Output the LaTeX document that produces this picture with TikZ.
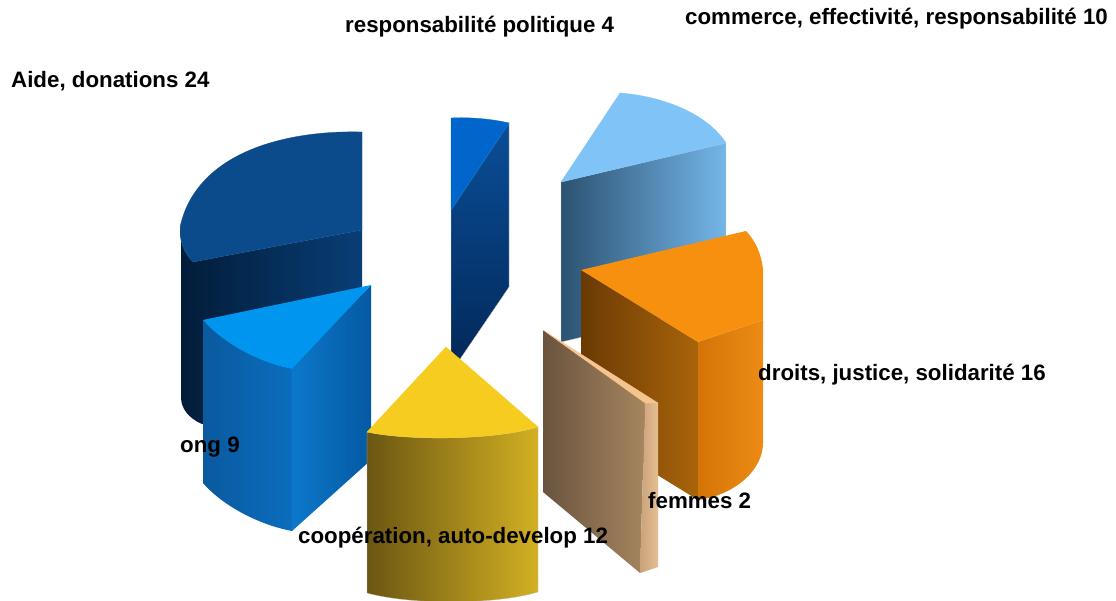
\documentclass[tikz,border=0pt]{standalone}
\usepackage{fontspec}
\setmainfont{Liberation Sans}

\definecolor{AideTop}{HTML}{0B4A8B}
\definecolor{AideSideL}{HTML}{021C38}
\definecolor{AideSideR}{HTML}{083E76}
\definecolor{RespTop}{HTML}{0066CC}
\definecolor{RespSideT}{HTML}{0A4E98}
\definecolor{RespSideB}{HTML}{03295A}
\definecolor{ComTop}{HTML}{80C4F7}
\definecolor{ComSideL}{HTML}{2C5272}
\definecolor{ComSideR}{HTML}{74B6E8}
\definecolor{DroitsTop}{HTML}{F7900F}
\definecolor{DroitsLeftL}{HTML}{6A3A04}
\definecolor{DroitsLeftR}{HTML}{A9640A}
\definecolor{DroitsRightL}{HTML}{D47408}
\definecolor{DroitsRightR}{HTML}{EC8C14}
\definecolor{OngTop}{HTML}{0096F0}
\definecolor{OngCurvL}{HTML}{0A5A9E}
\definecolor{OngCurvM}{HTML}{003C72}
\definecolor{OngCurvR}{HTML}{0B6DBE}
\definecolor{OngRightL}{HTML}{0C78CA}
\definecolor{OngRightR}{HTML}{0559A2}
\definecolor{CoopTop}{HTML}{F6CC20}
\definecolor{CoopL}{HTML}{6B5612}
\definecolor{CoopR}{HTML}{D3B022}
\definecolor{FemTop}{HTML}{F6C48E}
\definecolor{FemLeftL}{HTML}{6A543E}
\definecolor{FemLeftR}{HTML}{A6855F}
\definecolor{FemStripL}{HTML}{C9A27A}
\definecolor{FemStripR}{HTML}{E6BE94}

\begin{document}
\begin{tikzpicture}[x=1pt, y=-1pt,
  rim/.style={draw=black!25, line width=0.3pt},
  lbl/.style={font=\bfseries\fontsize{22.3}{26}\selectfont, inner sep=0pt, anchor=base west}]

\useasboundingbox (0,0) rectangle (1116,601);

  %%%%%%%%%% Aide, donations %%%%%%%%%%
  \coordinate (a1) at (362,132);
  \coordinate (a2) at (362,230);
  \coordinate (a3) at (193,262);
  \coordinate (a4) at (181,223);
  \coordinate (a5) at (362,394);
  \coordinate (a6) at (202,424);
  \coordinate (a7) at (181,397);

\shade [left color=AideSideL, right color=AideSideR] (a4) .. controls (178,240) and (184,253) .. (a3) -- (a2) -- (a5) -- (a6) .. controls (188,418) and (181,408) .. (a7) -- cycle ;
\fill [rim, color=AideTop] (a1) .. controls (290,130) and (200,150) .. (a4) .. controls (178,240) and (184,253) .. (a3) -- (a2) -- cycle ;

  %%%%%%%%%% responsabilite politique %%%%%%%%%%
  \coordinate (r1) at (451,118);
  \coordinate (r2) at (509,123);
  \coordinate (r3) at (451,210);
  \coordinate (r4) at (509,287);
  \coordinate (r5) at (458,362);
  \coordinate (r6) at (451,362);

\shade [rim, top color=RespSideT, bottom color=RespSideB] (r3) -- (r2) -- (r4) -- (r5) -- (r6) -- cycle ;
\fill [rim, color=RespTop] (r1) .. controls (470,117) and (492,119) .. (r2) -- (r3) -- cycle ;

  %%%%%%%%%% commerce %%%%%%%%%%
  \coordinate (c1) at (561,182);
  \coordinate (c2) at (620,93);
  \coordinate (c3) at (726,143);
  \coordinate (c4) at (726,303);
  \coordinate (c5) at (561,342);

\shade [rim, left color=ComSideL, right color=ComSideR] (c1) -- (c3) -- (c4) -- (c5) -- cycle ;
\fill [rim, color=ComTop] (c1) -- (c2) .. controls (660,96) and (706,112) .. (c3) -- cycle ;

  %%%%%%%%%% droits, justice %%%%%%%%%%
  \coordinate (d1) at (581,270);
  \coordinate (d2) at (746,231);
  \coordinate (d3) at (763,270);
  \coordinate (d4) at (763,320);
  \coordinate (d5) at (698,342);
  \coordinate (d6) at (763,443);
  \coordinate (d7) at (698,500);
  \coordinate (d8) at (581,428);

\shade [left color=DroitsLeftL, right color=DroitsLeftR] (d1) -- (d5) -- (d7) -- (d8) -- cycle ;
\shade [left color=DroitsRightL, right color=DroitsRightR] (d5) -- (d4) -- (d6) .. controls (763,470) and (735,495) .. (d7) -- cycle ;
\fill [color=DroitsTop] (d1) -- (d2) .. controls (755,240) and (762,255) .. (d3) -- (d4) -- (d5) -- cycle ;

  %%%%%%%%%% ong %%%%%%%%%%
  \coordinate (o1) at (203,320);
  \coordinate (o2) at (371,285);
  \coordinate (o3) at (292,369);
  \coordinate (o4) at (371,460);
  \coordinate (o5) at (292,531);
  \coordinate (o6) at (203,483);

\shade [left color=OngCurvL, middle color=OngCurvM, right color=OngCurvR] (o1) .. controls (220,340) and (255,362) .. (o3) -- (o5) .. controls (255,524) and (220,503) .. (o6) -- cycle ;
\shade [left color=OngRightL, right color=OngRightR] (o3) -- (o2) -- (o4) -- (o5) -- cycle ;
\fill [color=OngTop] (o1) -- (o2) -- (o3) .. controls (255,362) and (220,340) .. (o1) -- cycle ;

  %%%%%%%%%% cooperation %%%%%%%%%%
  \coordinate (y1) at (446,347);
  \coordinate (y2) at (538,427);
  \coordinate (y3) at (367,432);
  \coordinate (y4) at (538,592);
  \coordinate (y5) at (367,593);

\shade [rim, left color=CoopL, right color=CoopR] (y3) .. controls (410,441) and (495,440) .. (y2) -- (y4) .. controls (495,605) and (410,605) .. (y5) -- cycle ;
\fill [rim, color=CoopTop] (y3) -- (y1) -- (y2) .. controls (495,440) and (410,441) .. (y3) -- cycle ;

  %%%%%%%%%% femmes %%%%%%%%%%
  \coordinate (f1) at (543,330);
  \coordinate (f2) at (645,403);
  \coordinate (f3) at (658,403);
  \coordinate (f4) at (658,567);
  \coordinate (f5) at (640,573);
  \coordinate (f6) at (543,492);

\shade [left color=FemLeftL, right color=FemLeftR] (f1) -- (f2) -- (f5) -- (f6) -- cycle ;
\shade [left color=FemStripL, right color=FemStripR] (f2) -- (f3) -- (f4) -- (f5) -- cycle ;
\fill [rim, color=FemTop] (f1) -- (f3) -- (f2) -- cycle ;

  %%%%%%%%%% Labels %%%%%%%%%%
\node [lbl] (lAide) at (11,88) {Aide, donations 24};
\node [lbl] (lResp) at (345,33) {responsabilité politique 4};
\node [lbl] (lCom) at (685,25) {commerce, effectivité, responsabilité 10};
\node [lbl] (lDroits) at (758,381) {droits, justice, solidarité 16};
\node [lbl] (lOng) at (180,452) {ong 9};
\node [lbl] (lCoop) at (298,543) {coopération, auto-develop 12};
\node [lbl] (lFem) at (648,508) {femmes 2};

\end{tikzpicture}
\end{document}
